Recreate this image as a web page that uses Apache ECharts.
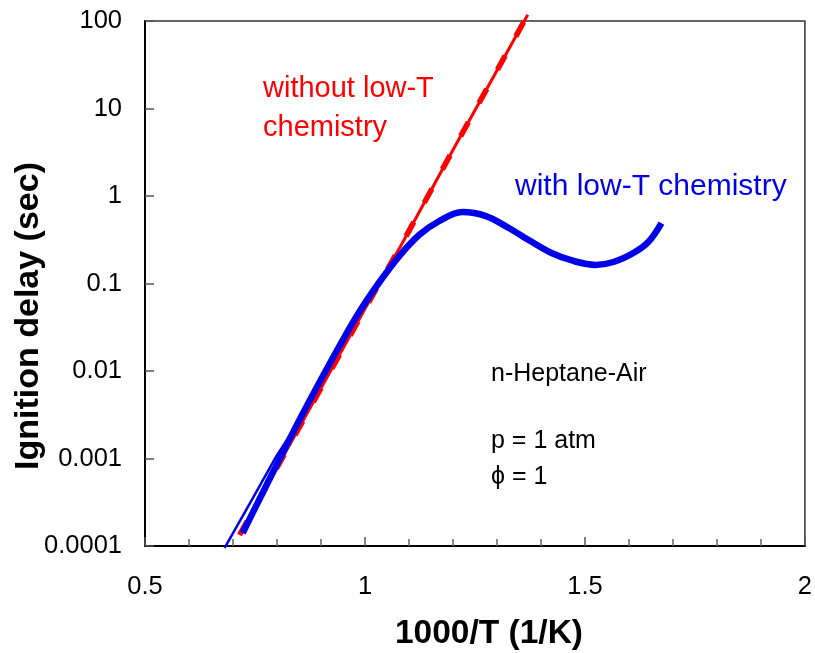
<!DOCTYPE html>
<html>
<head>
<meta charset="utf-8">
<title>Ignition delay of n-heptane/air</title>
<script src="https://cdn.jsdelivr.net/npm/echarts@6/dist/echarts.min.js"></script>
<style>
  html, body { margin: 0; padding: 0; background: #fff; }
  #chart { width: 815px; height: 653px; }
</style>
</head>
<body>
<div id="chart"></div>
<script>
// Ignition delay vs inverse temperature, n-heptane/air, p = 1 atm, phi = 1

// 1000/T (1/K) and ignition delay (sec) for the mechanism without low-T chemistry
const noLowTX = [0.715, 0.85, 1.0, 1.085, 1.2, 1.3, 1.370];
const noLowTY = [0.000134, 0.00223, 0.0514, 0.29, 3.36, 27.2, 118];

// mechanism with low-T chemistry (main curve)
const lowTX = [0.722, 0.765, 0.806, 0.851, 0.897, 0.942, 0.987, 1.033, 1.078, 1.123, 1.169,
               1.221, 1.275, 1.327, 1.372, 1.424, 1.474, 1.524, 1.565, 1.610, 1.644, 1.674];
const lowTY = [0.000141, 0.000383, 0.000986, 0.00275, 0.00748, 0.0193, 0.0472, 0.104, 0.206, 0.358, 0.518,
               0.656, 0.590, 0.431, 0.314, 0.223, 0.181, 0.163, 0.176, 0.223, 0.298, 0.491];

// thinner companion trace on the high-temperature branch
const lowTHighX = [0.681, 0.740, 0.799, 0.851, 0.897];
const lowTHighY = [0.000095, 0.000318, 0.00107, 0.0027, 0.0074];

const xTickLabels = ['0.5', '1', '1.5', '2'];
const yTickLabels = ['0.0001', '0.001', '0.01', '0.1', '1', '10', '100'];

const pairs = (xs, ys) => xs.map((x, i) => [x, ys[i]]);

const FONT = '"Liberation Sans", Arial, sans-serif';
const RED = '#ff0000';
const BLUE = '#0000e8';

const chart = echarts.init(document.getElementById('chart'), null, { renderer: 'canvas' });

chart.setOption({
  animation: false,
  backgroundColor: '#fff',
  grid: {
    left: 145, right: 8, top: 21, bottom: 107,
    show: true, borderColor: '#333', borderWidth: 1.5, backgroundColor: 'transparent'
  },
  xAxis: {
    type: 'value', min: 0.5, max: 2, interval: 0.5,
    axisLine: { lineStyle: { color: '#000', width: 2 } },
    axisTick: { inside: true, length: 9, lineStyle: { color: '#555', width: 1.5 } },
    minorTick: { show: true, splitNumber: 5, length: 7, lineStyle: { color: '#666', width: 1.5 } },
    splitLine: { show: false },
    axisLabel: {
      margin: 28, fontSize: 25.5, color: '#000', fontFamily: FONT,
      formatter: v => xTickLabels[Math.round((v - 0.5) / 0.5)]
    }
  },
  yAxis: {
    type: 'log', logBase: 10, min: 0.0001, max: 100,
    axisLine: { lineStyle: { color: '#000', width: 2 } },
    axisTick: { inside: true, length: 9, lineStyle: { color: '#555', width: 1.5 } },
    splitLine: { show: false },
    axisLabel: {
      margin: 23, fontSize: 25.5, color: '#000', fontFamily: FONT,
      formatter: v => yTickLabels[Math.round(Math.log10(v)) + 4]
    }
  },
  series: [
    {
      type: 'line', data: pairs(noLowTX, noLowTY), symbol: 'none', clip: false, z: 3,
      lineStyle: { color: RED, width: 3 }
    },
    {
      type: 'line', data: pairs(noLowTX, noLowTY), symbol: 'none', clip: false, z: 3,
      lineStyle: { color: RED, width: 5.5, type: [16, 22] }
    },
    {
      type: 'line', data: pairs(lowTHighX, lowTHighY), symbol: 'none', clip: false, z: 4,
      lineStyle: { color: BLUE, width: 2.5 }
    },
    {
      type: 'line', data: pairs(lowTX, lowTY), symbol: 'none', clip: false, z: 5,
      smooth: 0.35, lineStyle: { color: BLUE, width: 6.5 }
    }
  ],
  graphic: [
    { type: 'text', x: 263, y: 89, style: { text: 'without low-T', font: '29px ' + FONT, fill: RED, verticalAlign: 'middle' } },
    { type: 'text', x: 263, y: 128, style: { text: 'chemistry', font: '29px ' + FONT, fill: RED, verticalAlign: 'middle' } },
    { type: 'text', x: 515, y: 187, style: { text: 'with low-T chemistry', font: '30px ' + FONT, fill: BLUE, verticalAlign: 'middle' } },
    { type: 'text', x: 491, y: 374, style: { text: 'n-Heptane-Air', font: '25px ' + FONT, fill: '#000', verticalAlign: 'middle' } },
    { type: 'text', x: 491, y: 441, style: { text: 'p = 1 atm', font: '25px ' + FONT, fill: '#000', verticalAlign: 'middle' } },
    { type: 'text', x: 491, y: 477, style: { text: 'ϕ = 1', font: '25px ' + FONT, fill: '#000', verticalAlign: 'middle' } },
    { type: 'text', x: 489, y: 634, style: { text: '1000/T (1/K)', font: 'bold 33.5px ' + FONT, fill: '#000', align: 'center', verticalAlign: 'middle' } },
    { type: 'text', x: 29, y: 316, rotation: Math.PI / 2,
      style: { text: 'Ignition delay (sec)', font: 'bold 34px ' + FONT, fill: '#000', align: 'center', verticalAlign: 'middle' } }
  ]
});
</script>
</body>
</html>
